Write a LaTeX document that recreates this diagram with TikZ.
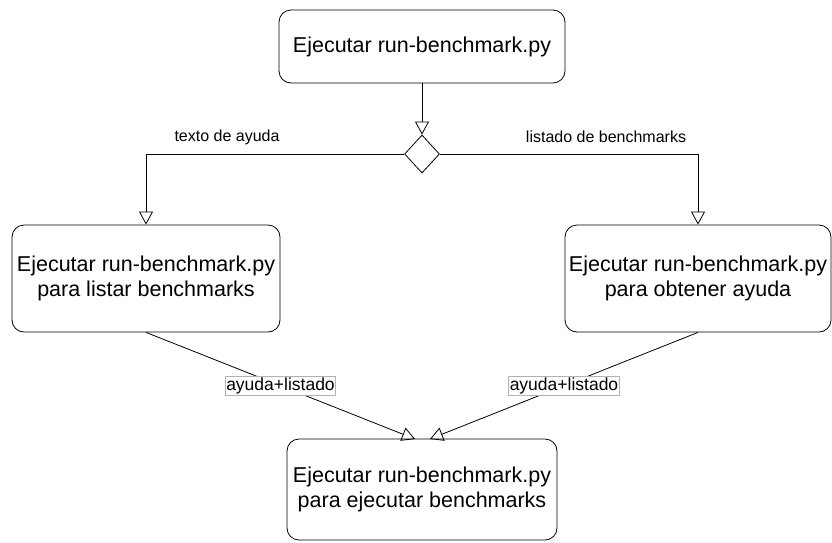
\documentclass[tikz,border=0pt]{standalone}
\usepackage{fontspec}
\setmainfont{Liberation Sans}
\usetikzlibrary{arrows.meta,shapes.geometric}

\begin{document}
\begin{tikzpicture}[x=1pt,y=-1pt,
    paso/.style={draw,thick,rounded corners=12pt,align=center,
      font=\fontsize{21.5}{25}\selectfont,inner sep=0pt},
    decision/.style={draw,thick,diamond,minimum width=35pt,minimum height=38pt,inner sep=0pt},
    flecha/.style={draw,thick,-{Triangle[open,length=13pt,width=14pt]}},
    etiqueta/.style={font=\fontsize{16}{18}\selectfont},
    caja/.style={font=\fontsize{17.5}{19}\selectfont,draw=black!30,fill=white,inner sep=1pt,line width=0.6pt}]
  \useasboundingbox (0,0) rectangle (832,542);
  % pasos
  \node[paso,minimum width=286pt,minimum height=73pt] (inicio) at (422,46.5) {Ejecutar run-benchmark.py};
  \node[decision] (D) at (422,154) {};
  \node[paso,minimum width=268pt,minimum height=107pt] (listar) at (146,278.5)
    {Ejecutar run-benchmark.py\\para listar benchmarks};
  \node[paso,minimum width=266pt,minimum height=107pt] (ayuda) at (698,278.5)
    {Ejecutar run-benchmark.py\\para obtener ayuda};
  \node[paso,minimum width=270pt,minimum height=101pt] (ejecutar) at (422,489.5)
    {Ejecutar run-benchmark.py\\para ejecutar benchmarks};
  % conexiones
  \path[flecha] (inicio) -- (D);
  \path[flecha] (D.west) -| (listar.north);
  \path[flecha] (D.east) -| (ayuda.north);
  \node[etiqueta] (tA) at (227,137) {texto de ayuda};
  \node[etiqueta] (tL) at (606,137) {listado de benchmarks};
  \path[flecha] (listar.south) -- (415,439)
    node[caja,midway] (aL) {ayuda+listado};
  \path[flecha] (ayuda.south) -- (430,439)
    node[caja,midway] (aR) {ayuda+listado};
\end{tikzpicture}
\end{document}
